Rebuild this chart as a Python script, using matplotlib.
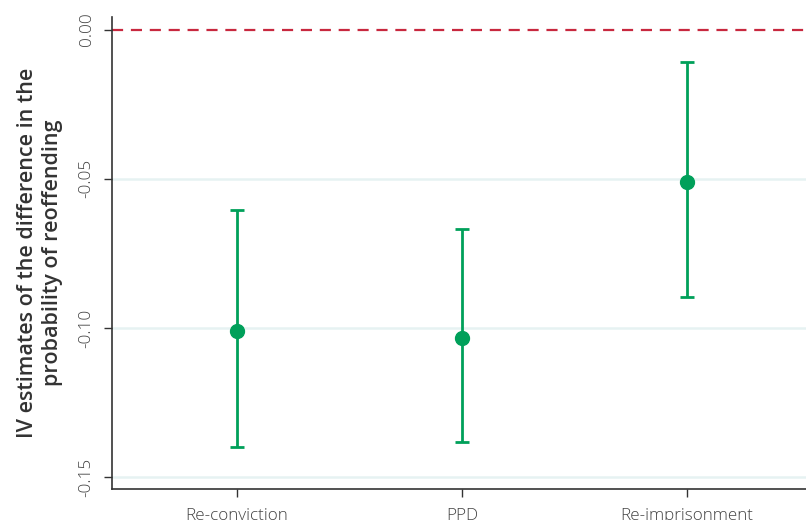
import matplotlib
matplotlib.use("Agg")
import matplotlib.pyplot as plt
import numpy as np

categories = ["Re-conviction", "PPD", "Re-imprisonment"]
estimates = [-0.1010, -0.1033, -0.0511]
ci_low = [-0.1398, -0.1381, -0.0896]
ci_high = [-0.0604, -0.0668, -0.0109]
yticks = [0.00, -0.05, -0.10, -0.15]
ytick_labels = ["0.00", "-0.05", "-0.10", "-0.15"]

plt.rcParams['font.family'] = ['Open Sans', 'DejaVu Sans']

fig = plt.figure(figsize=(8.06, 5.20), dpi=100)
ax = fig.add_axes([112/806, 31/520, 694/806, 472/520])

x = np.arange(len(categories))
est = np.array(estimates)
lo = est - np.array(ci_low)
hi = np.array(ci_high) - est

green = "#00a05a"
for yv in yticks[1:]:
    ax.axhline(yv, color="#e6f2f2", lw=1.8, zorder=0)
ax.axhline(0, color="#c8283f", lw=1.6, ls=(0, (5, 3.5)), zorder=1)

ax.errorbar(x, est, yerr=[lo, hi], fmt='o', color=green, ecolor=green,
            elinewidth=2.0, capsize=5, capthick=2.0, markersize=10, zorder=3)

ax.set_xlim(-0.556, 2.53)
ax.set_ylim(-0.1539, 0.0042)
ax.set_xticks(x)
ax.set_xticklabels(categories, fontsize=12.3, fontweight='light', color="#444444")
ax.set_yticks(yticks)
ax.set_yticklabels(ytick_labels, rotation=90, va='center', fontsize=12.3,
                   fontweight='light', color="#444444")
ax.tick_params(axis='both', length=5.5, width=1, color="#333333")
ax.tick_params(axis='x', pad=8)
ax.tick_params(axis='y', pad=7)

for s in ['top', 'right']:
    ax.spines[s].set_visible(False)
for s in ['left', 'bottom']:
    ax.spines[s].set_color("#333333")
    ax.spines[s].set_linewidth(1.2)

ax.set_ylabel("IV estimates of the difference in the\nprobability of reoffending",
              fontsize=15.5, fontweight='semibold', color="#333333", labelpad=11,
              linespacing=1.3)

fig.savefig("out.png", dpi=100)
